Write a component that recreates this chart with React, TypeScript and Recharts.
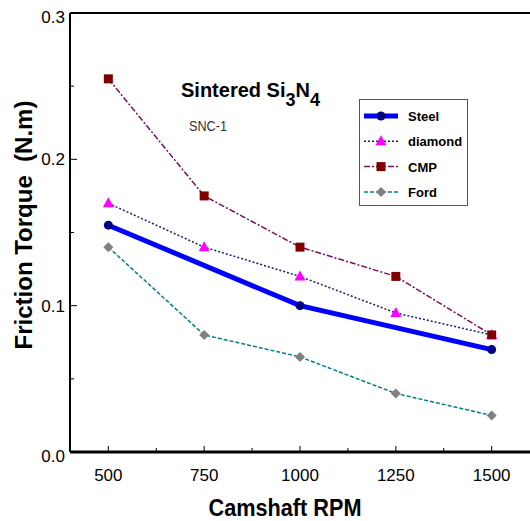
import React from 'react';
import { LineChart, Line, XAxis, YAxis, Legend, ReferenceLine } from 'recharts';

// values (Friction Torque, N.m)
const rpm = [500, 750, 1000, 1250, 1500];
const steel = [0.155, null, 0.1, null, 0.07];
const diamond = [0.17, 0.14, 0.12, 0.095, 0.08];
const cmp = [0.255, 0.175, 0.14, 0.12, 0.08];
const ford = [0.14, 0.08, 0.065, 0.04, 0.025];

const xTicks = [500, 625, 750, 875, 1000, 1125, 1250, 1375, 1500];
const yTicks = [0, 0.05, 0.1, 0.15, 0.2, 0.25, 0.3];
const seriesNames = ['Steel', 'diamond', 'CMP', 'Ford'];

const FONT = '"Liberation Sans", Arial, sans-serif';

const chartData = rpm.map((r, i) => ({
  rpm: r,
  steel: steel[i],
  diamond: diamond[i],
  cmp: cmp[i],
  ford: ford[i],
}));

type Shape = 'circle' | 'triangle' | 'square' | 'diamond';

const styles: Record<string, { stroke: string; width: number; dash?: string; shape: Shape; fill: string }> = {
  Steel: { stroke: '#0000ff', width: 5, shape: 'circle', fill: '#000080' },
  diamond: { stroke: '#1c1c6c', width: 1.5, dash: '2 2', shape: 'triangle', fill: '#ff00ff' },
  CMP: { stroke: '#7a1060', width: 1.5, dash: '6 2 2 2', shape: 'square', fill: '#800000' },
  Ford: { stroke: '#008080', width: 1.5, dash: '4 2', shape: 'diamond', fill: '#808080' },
};

function Marker({ cx, cy, shape, fill }: { cx: number; cy: number; shape: Shape; fill: string }) {
  if (shape === 'circle') return <circle cx={cx} cy={cy} r={4.5} fill={fill} />;
  if (shape === 'triangle')
    return <polygon points={`${cx},${cy - 6} ${cx - 5.5},${cy + 4} ${cx + 5.5},${cy + 4}`} fill={fill} />;
  if (shape === 'square') return <rect x={cx - 4.5} y={cy - 4.5} width={9} height={9} fill={fill} />;
  return <polygon points={`${cx},${cy - 5} ${cx + 5},${cy} ${cx},${cy + 5} ${cx - 5},${cy}`} fill={fill} />;
}

const makeDot = (name: string) => (p: any) => {
  const s = styles[name];
  if (p.cy == null || p.value == null) return <g key={`${name}-${p.index}`} />;
  return <Marker key={`${name}-${p.index}`} cx={p.cx} cy={p.cy} shape={s.shape} fill={s.fill} />;
};

function XTick({ x, y, payload }: any) {
  const major = payload.value % 250 === 0;
  return (
    <g>
      <line x1={x} x2={x} y1={y} y2={y - (major ? 6 : 4)} stroke="#000" strokeWidth={1} />
      {major && (
        <text x={x} y={y + 29} textAnchor="middle" fontSize={17} fontFamily={FONT} fill="#000">
          {payload.value}
        </text>
      )}
    </g>
  );
}

function YTick({ x, y, payload, index }: any) {
  const major = index % 2 === 0;
  const edge = payload.value === 0 || payload.value === 0.3;
  return (
    <g>
      <line x1={x} x2={x + (major ? 7 : 4)} y1={y} y2={y} stroke="#000" strokeWidth={1} />
      {major && (
        <text x={x - 5} y={y + (edge ? 10 : 6)} textAnchor="end" fontSize={17} fontFamily={FONT} fill="#000">
          {payload.value.toFixed(1)}
        </text>
      )}
    </g>
  );
}

function LegendBox() {
  return (
    <svg width={110} height={108} style={{ display: 'block' }}>
      <rect x={0.5} y={0.5} width={108} height={106} fill="#fff" stroke="#555" strokeWidth={1} />
      {seriesNames.map((n, i) => {
        const s = styles[n];
        const y = 17 + i * 25.3;
        return (
          <g key={n}>
            <line x1={5} x2={39} y1={y} y2={y} stroke={s.stroke} strokeWidth={s.width} strokeDasharray={s.dash} />
            <Marker cx={22} cy={y} shape={s.shape} fill={s.fill} />
            <text x={49} y={y + 5} fontSize={13} fontWeight="bold" fontFamily={FONT} fill="#000">
              {n}
            </text>
          </g>
        );
      })}
    </svg>
  );
}

export default function App() {
  return (
    <div style={{ position: 'fixed', left: 0, top: 0, width: 530, height: 521, background: '#fff' }}>
      <LineChart width={530} height={521} data={chartData} margin={{ top: 13, right: 0, bottom: 0, left: 0 }}>
        <XAxis
          dataKey="rpm"
          type="number"
          domain={[400, 1600]}
          ticks={xTicks}
          interval={0}
          height={69}
          tickLine={false}
          tickSize={0}
          tickMargin={0}
          tick={<XTick />}
          axisLine={{ stroke: '#000', strokeWidth: 3 }}
        />
        <YAxis
          type="number"
          domain={[0, 0.3]}
          ticks={yTicks}
          interval={0}
          width={70}
          tickLine={false}
          tickSize={0}
          tickMargin={0}
          tick={<YTick />}
          axisLine={{ stroke: '#000', strokeWidth: 2 }}
        />
        <ReferenceLine y={0.3} stroke="#000" strokeWidth={2} />
        <Line
          dataKey="steel"
          name="Steel"
          stroke={styles.Steel.stroke}
          strokeWidth={styles.Steel.width}
          connectNulls
          dot={makeDot('Steel')}
          activeDot={false}
          isAnimationActive={false}
        />
        <Line
          dataKey="diamond"
          name="diamond"
          stroke={styles.diamond.stroke}
          strokeWidth={styles.diamond.width}
          strokeDasharray={styles.diamond.dash}
          dot={makeDot('diamond')}
          activeDot={false}
          isAnimationActive={false}
        />
        <Line
          dataKey="cmp"
          name="CMP"
          stroke={styles.CMP.stroke}
          strokeWidth={styles.CMP.width}
          strokeDasharray={styles.CMP.dash}
          dot={makeDot('CMP')}
          activeDot={false}
          isAnimationActive={false}
        />
        <Line
          dataKey="ford"
          name="Ford"
          stroke={styles.Ford.stroke}
          strokeWidth={styles.Ford.width}
          strokeDasharray={styles.Ford.dash}
          dot={makeDot('Ford')}
          activeDot={false}
          isAnimationActive={false}
        />
        <Legend
          layout="vertical"
          align="center"
          verticalAlign="middle"
          content={() => <LegendBox />}
          wrapperStyle={{ left: 359, top: 99, width: 110, height: 108 }}
        />
      </LineChart>
      {/* titles and axis labels */}
      <svg width={530} height={521} style={{ position: 'absolute', left: 0, top: 0, pointerEvents: 'none' }}>
        <text x={181} y={97} fontSize={20} fontWeight="bold" fontFamily={FONT} fill="#000">
          Sintered Si
          <tspan dy={9} fontSize={18}>3</tspan>
          <tspan dy={-9}>N</tspan>
          <tspan dy={9} fontSize={18}>4</tspan>
        </text>
        <text x={189} y={131} fontSize={14} fontFamily={FONT} fill="#333" textLength={38} lengthAdjust="spacingAndGlyphs">
          SNC-1
        </text>
        <text
          x={285}
          y={516}
          textAnchor="middle"
          fontSize={24}
          fontWeight="bold"
          fontFamily={FONT}
          fill="#000"
          textLength={153}
          lengthAdjust="spacingAndGlyphs"
        >
          Camshaft RPM
        </text>
        <text
          transform="translate(32,225) rotate(-90)"
          textAnchor="middle"
          fontSize={24}
          fontWeight="bold"
          fontFamily={FONT}
          fill="#000"
        >
          {'Friction Torque\u00a0 (N.m)'}
        </text>
      </svg>
    </div>
  );
}
